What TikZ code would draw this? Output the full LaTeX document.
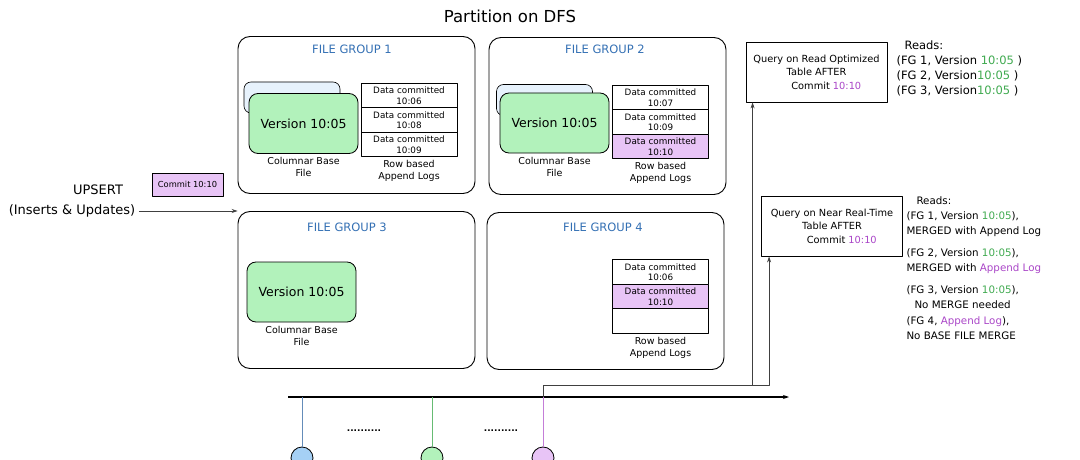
\documentclass[tikz,border=0pt]{standalone}
\usepackage{fontspec}
\setmainfont{DejaVu Sans}
\usepackage{tikz}
\usetikzlibrary{arrows.meta, positioning, calc}
\definecolor{fgblue}{RGB}{52,112,180}
\definecolor{basegreen}{RGB}{178,242,187}
\definecolor{backblue}{RGB}{231,242,252}
\definecolor{logpurple}{RGB}{232,196,246}
\definecolor{vgreen}{RGB}{64,170,80}
\definecolor{cpurple}{RGB}{170,70,200}
\definecolor{dotblue}{RGB}{165,208,245}
\definecolor{stemblue}{RGB}{100,140,185}

\begin{document}
\begin{tikzpicture}[x=1pt, y=-1pt, >={Stealth[length=6pt,width=4pt]}, line join=round,
        fgbox/.style={draw, rounded corners=12pt, line width=0.9pt,
                      minimum width=237pt, minimum height=157pt},
        fglabel/.style={text=fgblue, font=\fontsize{11.5}{13}\selectfont},
        basefile/.style={draw, rounded corners=9pt, fill=basegreen, line width=0.8pt,
                         minimum width=109pt, minimum height=60pt, font=\fontsize{12.5}{14}\selectfont},
        backfile/.style={draw, rounded corners=7pt, fill=backblue, line width=0.6pt,
                         minimum width=96pt, minimum height=31pt},
        logcell/.style={draw, fill=white, line width=0.6pt, outer sep=0pt,
                        minimum width=96pt, minimum height=24.5pt,
                        inner sep=1pt, align=center, font=\fontsize{8.8}{10.5}\selectfont},
        newlog/.style={logcell, fill=logpurple},
        caption/.style={align=center, font=\fontsize{9.5}{12}\selectfont},
        query/.style={draw, line width=0.8pt, minimum width=141pt, minimum height=60pt,
                      align=center, font=\fontsize{9.8}{13.5}\selectfont},
        reads/.style={align=left, anchor=north west, font=\fontsize{11.5}{15}\selectfont},
        tick/.style={circle, draw, line width=0.8pt, minimum size=22pt, inner sep=0pt},
        conn/.style={draw=black!75, line width=0.8pt}]
      \fill[white] (0,0) rectangle (1080,460);
      \useasboundingbox (0,0) rectangle (1080,460);

      \node[font=\fontsize{16.5}{19}\selectfont] (title) at (510,16) {Partition on DFS};

      \node[fgbox] (fg1) at (356.5,115) {};
      \node[fgbox] (fg2) at (607.5,116) {};
      \node[fgbox] (fg3) at (356.5,290) {};
      \node[fgbox] (fg4) at (605.5,291) {};
      \node[fglabel] (fg1t) at (352,49) {FILE GROUP 1};
      \node[fglabel] (fg2t) at (605,49) {FILE GROUP 2};
      \node[fglabel] (fg3t) at (347,227) {FILE GROUP 3};
      \node[fglabel] (fg4t) at (603,227) {FILE GROUP 4};

      \node[backfile] (b1old) at (292,97.5) {};
      \node[basefile] (b1) at (303.5,123.5) {Version 10:05};
      \node[caption, below=0pt of b1] (b1c) {Columnar Base\\File};
      \node[backfile] (b2old) at (544.5,100) {};
      \node[basefile] (b2) at (554.5,123) {Version 10:05};
      \node[caption, below=0pt of b2] (b2c) {Columnar Base\\File};
      \node[basefile] (b3) at (301.5,292) {Version 10:05};
      \node[caption, below=0pt of b3] (b3c) {Columnar Base\\File};

      \node[logcell] (l11) at (409,95.5) {Data committed\\10:06};
      \node[logcell, below=0pt of l11] (l12) {Data committed\\10:08};
      \node[logcell, below=0pt of l12] (l13) {Data committed\\10:09};
      \node[caption, below=0pt of l13] (l1c) {Row based\\Append Logs};
      \node[logcell] (l21) at (660.5,97.5) {Data committed\\10:07};
      \node[logcell, below=0pt of l21] (l22) {Data committed\\10:09};
      \node[newlog, below=0pt of l22] (l23) {Data committed\\10:10};
      \node[caption, below=0pt of l23] (l2c) {Row based\\Append Logs};
      \node[logcell] (l41) at (660.5,272) {Data committed\\10:06};
      \node[newlog, below=0pt of l41] (l42) {Data committed\\10:10};
      \node[logcell, below=0pt of l42] (l43) {};
      \node[caption, below=0pt of l43] (l4c) {Row based\\Append Logs};

      \node[font=\fontsize{13}{15}\selectfont] (upsert) at (98,190) {UPSERT};
      \node[font=\fontsize{13}{15}\selectfont] (ins) at (72,211) {(Inserts \& Updates)};
      \node[draw, fill=logpurple, line width=0.6pt, minimum width=71pt, minimum height=23pt,
            font=\fontsize{8.3}{10}\selectfont] (commit) at (187.5,184.5) {Commit 10:10};
      \draw[conn, ->] (ins.east) -- (ins.east -| fg1.west);

      \node[query] (qro) at (816.5,72) {Query on Read Optimized\\Table AFTER\\
            \hspace*{2em}Commit \textcolor{cpurple}{10:10}};
      \node[reads] (rro) at (893,37) {\hspace*{8pt}Reads:\\
            (FG 1, Version \textcolor{vgreen}{10:05} )\\
            (FG 2, Version\textcolor{vgreen}{10:05} )\\
            (FG 3, Version\textcolor{vgreen}{10:05} )};
      \node[query] (qnrt) at (832,226) {Query on Near Real-Time\\Table AFTER\\
            \hspace*{2em}Commit \textcolor{cpurple}{10:10}};
      \node[reads, font=\fontsize{10.3}{15}\selectfont] (rnrt) at (903,193) {\hspace*{10pt}Reads:\\
            (FG 1, Version \textcolor{vgreen}{10:05}),\\
            MERGED with Append Log\\[7pt]
            (FG 2, Version \textcolor{vgreen}{10:05}),\\
            MERGED with \textcolor{cpurple}{Append Log}\\[7pt]
            (FG 3, Version \textcolor{vgreen}{10:05}),\\
            \hspace*{8pt}No MERGE needed\\[1pt]
            (FG 4, \textcolor{cpurple}{Append Log}),\\
            No BASE FILE MERGE};

      \coordinate (tl0) at (288,397);
      \coordinate (tl1) at (789,397);
      \draw[line width=1.1pt, ->] (tl0) -- (tl1);

      \node[tick, fill=dotblue] (c1) at (302,458) {};
      \node[tick, fill=basegreen] (c2) at (432,458) {};
      \node[tick, fill=logpurple] (c3) at (543,458) {};
      \draw[stemblue, line width=0.8pt] (c1) -- (c1 |- tl0);
      \draw[vgreen!80, line width=0.8pt] (c2) -- (c2 |- tl0);
      \draw[cpurple!70, line width=0.8pt] (c3) -- (c3 |- tl0);
      \node[font=\fontsize{9}{10}\selectfont\bfseries] (gap1) at (364,431) {..........};
      \node[font=\fontsize{9}{10}\selectfont\bfseries] (gap2) at (501,431) {..........};

      \coordinate (split) at (543,385);
      \coordinate (roin) at ([xshift=7pt]qro.south west);
      \coordinate (nrtin) at ([xshift=8pt]qnrt.south west);
      \draw[conn, ->] (c3 |- tl0) -- (split) -| (nrtin);
      \draw[conn, ->] (split -| roin) -- (roin);
    \end{tikzpicture}
\end{document}
